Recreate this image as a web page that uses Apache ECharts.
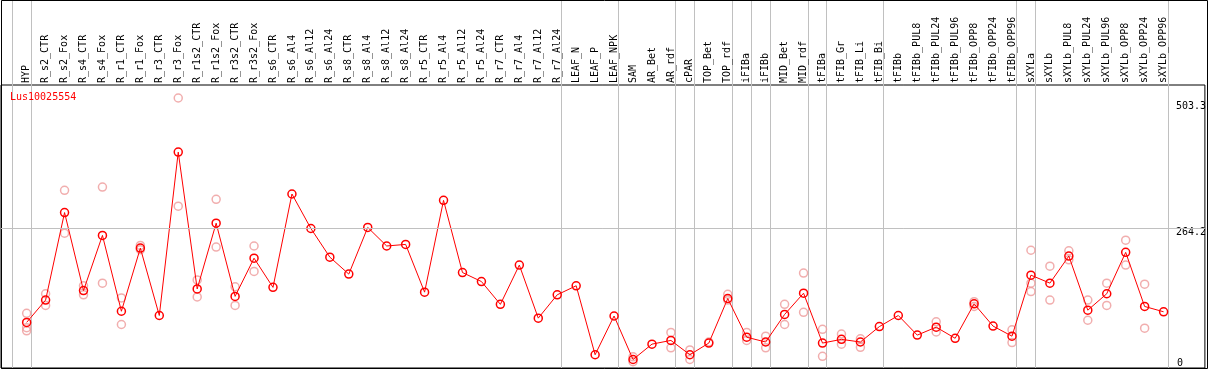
<!DOCTYPE html>
<html>
<head>
<meta charset="utf-8">
<script src="https://cdn.jsdelivr.net/npm/echarts@6/dist/echarts.min.js"></script>
<style>
  html, body { margin: 0; padding: 0; background: #fff; }
  #chart { width: 1209px; height: 370px; }
</style>
</head>
<body>
<div id="chart"></div>
<script>
const geneName = 'Lus10025554';

const categories = [
  'HYP', 'R_s2_CTR', 'R_s2_Fox', 'R_s4_CTR', 'R_s4_Fox', 'R_r1_CTR', 'R_r1_Fox',
  'R_r3_CTR', 'R_r3_Fox', 'R_r1s2_CTR', 'R_r1s2_Fox', 'R_r3s2_CTR', 'R_r3s2_Fox',
  'R_s6_CTR', 'R_s6_Al4', 'R_s6_Al12', 'R_s6_Al24', 'R_s8_CTR', 'R_s8_Al4',
  'R_s8_Al12', 'R_s8_Al24', 'R_r5_CTR', 'R_r5_Al4', 'R_r5_Al12', 'R_r5_Al24',
  'R_r7_CTR', 'R_r7_Al4', 'R_r7_Al12', 'R_r7_Al24', 'LEAF_N', 'LEAF_P', 'LEAF_NPK',
  'SAM', 'AR_Bet', 'AR_rdf', 'cPAR', 'TOP_Bet', 'TOP_rdf', 'iFIBa', 'iFIBb',
  'MID_Bet', 'MID_rdf', 'tFIBa', 'tFIB_Gr', 'tFIB_Li', 'tFIB_Bi', 'tFIBb',
  'tFIBb_PUL8', 'tFIBb_PUL24', 'tFIBb_PUL96', 'tFIBb_OPP8', 'tFIBb_OPP24', 'tFIBb_OPP96',
  'sXYLa', 'sXYLb', 'sXYLb_PUL8', 'sXYLb_PUL24', 'sXYLb_PUL96', 'sXYLb_OPP8',
  'sXYLb_OPP24', 'sXYLb_OPP96'
];

// mean expression per sample
const means = [
  86, 128, 293, 146, 250, 107, 226, 99, 407, 149, 273, 135, 207,
  152, 328, 263, 209, 177, 265, 230, 233, 143, 316, 180, 163,
  120, 194, 94, 138, 155, 25, 98,
  16, 45, 52, 25, 47, 131, 58, 49, 101, 141, 47, 54, 49, 78,
  99, 62, 77, 56, 121, 79, 60,
  175, 160, 211, 109, 140, 218, 116, 106
];

// individual replicates (only those that stand apart from the mean)
const replicates = [
  [103, 76, 70], [140, 118], [335, 254], [155, 138], [341, 160], [132, 82], [231, 223],
  [], [509, 305], [166, 134], [318, 228], [153, 118], [230, 182],
  [], [], [], [], [], [], [], [], [], [], [], [],
  [], [], [], [], [], [], [],
  [21, 12], [], [67, 38], [34, 16], [49], [139, 128], [67, 52], [60, 38],
  [120, 82], [179, 105], [73, 22], [64, 45], [55, 39], [],
  [], [], [87, 68], [], [125, 116], [], [72, 48],
  [222, 160, 144], [192, 128], [221, 204], [128, 90], [160, 118], [241, 194], [158, 75], []
];

const yTickLabels = [264.2, 503.3];
const yZeroLabel = [0];
const refLineValue = 264.2;
// index of the last sample in each group (separator drawn after it)
const groupEnds = [-1, 0, 28, 31, 34, 35, 37, 38, 39, 41, 42, 45, 52, 53, 60];

const monoFont = 'DejaVu Sans Mono';
const chart = echarts.init(document.getElementById('chart'));

const repPoints = [];
replicates.forEach((list, i) => list.forEach(v => repPoints.push([i, v])));
const meanPoints = means.map((v, i) => [i, v]);

const option = {
  animation: false,
  backgroundColor: '#fff',
  title: {
    text: geneName,
    left: 10,
    top: 92,
    padding: 0,
    textStyle: { color: '#ff0000', fontFamily: monoFont, fontSize: 10, fontWeight: 'normal' }
  },
  grid: {
    left: 1, right: 2, top: 85, bottom: 2,
    show: true, borderColor: '#000', borderWidth: 1
  },
  xAxis: {
    type: 'value',
    position: 'top',
    min: -1.354,
    max: 62.18,
    axisLine: { show: false },
    axisTick: { show: false },
    splitLine: { show: false },
    axisLabel: {
      customValues: categories.map((_, i) => i),
      formatter: v => categories[Math.round(v)],
      rotate: 90,
      margin: 2,
      padding: [0, 0, 3, 0],
      color: '#000',
      fontFamily: monoFont,
      fontSize: 10
    }
  },
  yAxis: [
    {
      type: 'value', min: 0, max: 533.5, position: 'right',
      axisLine: { show: false }, axisTick: { show: false }, splitLine: { show: false },
      axisLabel: {
        inside: true, customValues: yTickLabels, formatter: v => v.toFixed(1),
        verticalAlign: 'top', align: 'left', margin: 29,
        color: '#000', fontFamily: monoFont, fontSize: 10
      }
    },
    {
      type: 'value', min: 0, max: 533.5, position: 'right',
      axisLine: { show: false }, axisTick: { show: false }, splitLine: { show: false },
      axisLabel: {
        inside: true, customValues: yZeroLabel, formatter: v => String(v),
        verticalAlign: 'bottom', align: 'left', margin: 28,
        color: '#000', fontFamily: monoFont, fontSize: 10
      }
    }
  ],
  series: [
    {
      type: 'scatter',
      data: repPoints,
      symbol: 'circle',
      symbolSize: 8,
      itemStyle: { color: 'rgba(0,0,0,0)', borderColor: '#ee9a9a', borderWidth: 1.5 },
      z: 3
    },
    {
      type: 'line',
      data: meanPoints,
      symbol: 'circle',
      symbolSize: 8,
      lineStyle: { color: '#ff0000', width: 1 },
      itemStyle: { color: 'rgba(0,0,0,0)', borderColor: '#ff0000', borderWidth: 1.5 },
      z: 4,
      markLine: {
        silent: true,
        symbol: ['none', 'none'],
        label: { show: false },
        lineStyle: { color: '#c0c0c0', type: 'solid', width: 1 },
        data: [{ yAxis: refLineValue }]
      }
    }
  ]
};

chart.setOption(option);

// group separators run through the header too, so place them from the axis scale
const sepX = groupEnds.map(e => chart.convertToPixel({ xAxisIndex: 0 }, e + 0.21));
const graphics = sepX.map(x => ({
  type: 'line',
  z: 0,
  silent: true,
  shape: { x1: Math.round(x) + 0.5, y1: 0, x2: Math.round(x) + 0.5, y2: 368 },
  style: { stroke: '#c0c0c0', lineWidth: 1 }
}));
graphics.push({
  type: 'rect',
  z: 1,
  silent: true,
  shape: { x: 1.5, y: 0.5, width: 1206, height: 368 },
  style: { fill: null, stroke: '#000', lineWidth: 1 }
});
chart.setOption({ graphic: graphics });
</script>
</body>
</html>
